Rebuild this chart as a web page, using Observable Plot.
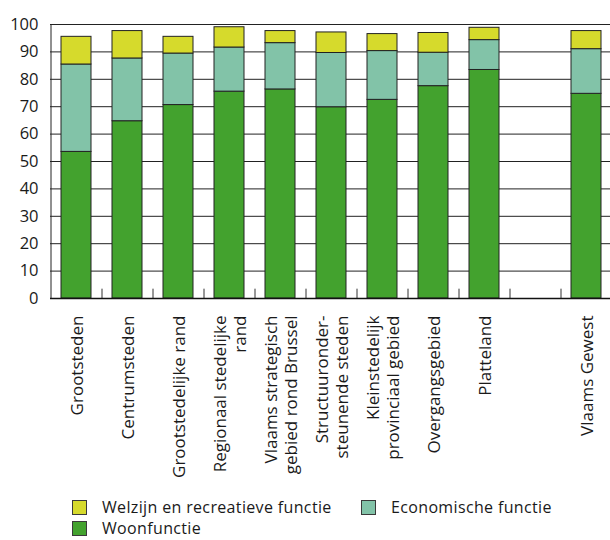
<!DOCTYPE html>
<html><head><meta charset="utf-8">
<script src="https://cdn.jsdelivr.net/npm/d3@7"></script>
<script src="https://cdn.jsdelivr.net/npm/@observablehq/plot@0.6"></script>
<style>
body{margin:0;background:#fff;font-family:"Open Sans",sans-serif;color:#1a1a1a;}
#chart svg{display:block;}
#legend{display:grid;grid-template-columns:289px auto;margin:2px 0 0 72px;font-size:16px;letter-spacing:0.35px;line-height:21px;}
.item{display:flex;align-items:center;height:21px;}
.sw{width:13px;height:13px;border:1px solid #3a3a3a;margin-right:15px;flex:none;}
</style></head><body>
<div id="chart"></div>
<div id="legend"></div>
<script>
const categories = [
  "Grootsteden",
  "Centrumsteden",
  "Grootstedelijke rand",
  "Regionaal stedelijke\nrand",
  "Vlaams strategisch\ngebied rond Brussel",
  "Structuuronder-\nsteunende steden",
  "Kleinstedelijk\nprovinciaal gebied",
  "Overgangsgebied",
  "Platteland",
  "Vlaams Gewest"
];
const woonfunctie = [53.5, 64.7, 70.6, 75.5, 76.3, 69.8, 72.5, 77.5, 83.4, 74.7];
const economisch  = [31.9, 22.9, 18.8, 16.1, 16.9, 19.8, 17.8, 12.2, 10.9, 16.3];
const welzijn     = [10.1, 10.0,  6.1,  7.4,  4.4,  7.5,  6.2,  7.2,  4.5,  6.6];
const series = ["Woonfunctie", "Economische functie", "Welzijn en recreatieve functie"];
const colors = ["#43a22e", "#82c3a8", "#d6da2c"];
const yTicks = [0, 10, 20, 30, 40, 50, 60, 70, 80, 90, 100];
const legendOrder = ["Welzijn en recreatieve functie", "Economische functie", "Woonfunctie"];

const gap = " ";
const domain = [...categories.slice(0, 9), gap, categories[9]];
const rows = categories.flatMap((c, i) => [
  {cat: c, serie: series[0], value: woonfunctie[i]},
  {cat: c, serie: series[1], value: economisch[i]},
  {cat: c, serie: series[2], value: welzijn[i]}
]);
const xRange = [50, 611];
const step = (xRange[1] - xRange[0]) / domain.length;

const plot = Plot.plot({
  width: 610, height: 495,
  marginLeft: 50, marginRight: 0, marginTop: 24, marginBottom: 197,
  x: {domain, range: xRange, paddingInner: 0.42, paddingOuter: 0.21, axis: null},
  y: {domain: [0, 100], ticks: yTicks, tickSize: 0, tickPadding: 12, label: null},
  color: {domain: series, range: colors},
  style: {fontFamily: "Open Sans", fontSize: "16.5px", color: "#1a1a1a", background: "white"},
  marks: [
    Plot.ruleY(yTicks, {stroke: "#222", strokeWidth: 1}),
    Plot.barY(rows, {x: "cat", y: "value", fill: "serie", stroke: "#222", strokeWidth: 1}),
    Plot.ruleX(domain.slice(0, 10), {x: d => d, y1: 0, y2: 3.4, dx: step / 2, stroke: "#333"}),
    Plot.ruleX([domain[0]], {x: d => d, y1: 0, y2: 100, dx: -step / 2, stroke: "#222"}),
    Plot.ruleY([0], {stroke: "#111", strokeWidth: 1.5}),
    Plot.text(categories, {x: d => d, frameAnchor: "bottom", dy: 17, rotate: -90,
      textAnchor: "end", lineAnchor: "middle", fontSize: 17, lineHeight: 1.17, fill: "#1a1a1a"})
  ]
});
document.getElementById("chart").appendChild(plot);

const legend = document.getElementById("legend");
legendOrder.forEach(name => {
  const item = document.createElement("div");
  item.className = "item";
  const sw = document.createElement("span");
  sw.className = "sw";
  sw.style.background = colors[series.indexOf(name)];
  const label = document.createElement("span");
  label.textContent = name;
  item.appendChild(sw);
  item.appendChild(label);
  legend.appendChild(item);
});
</script>
</body></html>
